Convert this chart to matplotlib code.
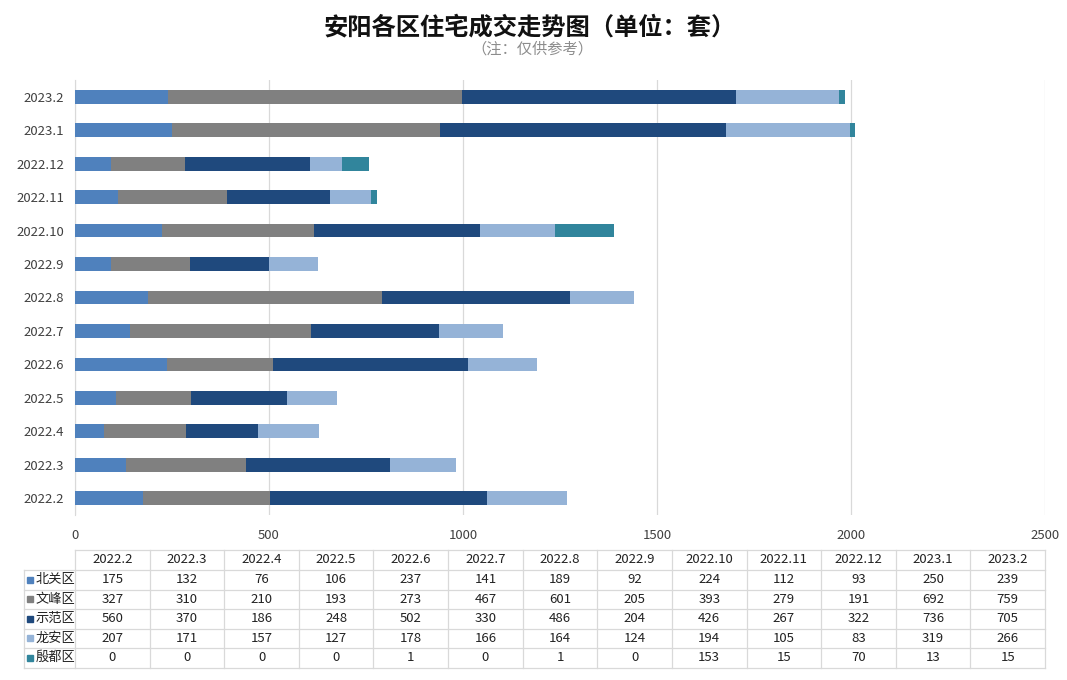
import matplotlib
matplotlib.use('Agg')
import matplotlib.pyplot as plt
from matplotlib.patches import Rectangle

plt.rcParams['font.family'] = ['Noto Sans CJK SC', 'DejaVu Sans']

months = ['2022.2', '2022.3', '2022.4', '2022.5', '2022.6', '2022.7', '2022.8',
          '2022.9', '2022.10', '2022.11', '2022.12', '2023.1', '2023.2']
districts = ['北关区', '文峰区', '示范区', '龙安区', '殷都区']
beiguan = [175, 132, 76, 106, 237, 141, 189, 92, 224, 112, 93, 250, 239]
wenfeng = [327, 310, 210, 193, 273, 467, 601, 205, 393, 279, 191, 692, 759]
shifan = [560, 370, 186, 248, 502, 330, 486, 204, 426, 267, 322, 736, 705]
longan = [207, 171, 157, 127, 178, 166, 164, 124, 194, 105, 83, 319, 266]
yindu = [0, 0, 0, 0, 1, 0, 1, 0, 153, 15, 70, 13, 15]
series = [beiguan, wenfeng, shifan, longan, yindu]
colors = ['#4F81BD', '#808080', '#1F497D', '#95B3D7', '#31859C']
xticks = [0, 500, 1000, 1500, 2000, 2500]

W, H = 1067, 680
fig = plt.figure(figsize=(W / 100, H / 100), dpi=100)
fig.patch.set_facecolor('white')

def fx(px):
    return px / W

def fy(py):
    return 1 - py / H

# main axes
ax = fig.add_axes([fx(75), fy(515), fx(1045) - fx(75), fy(80) - fy(515)])
n = len(months)
ypos = list(range(n))
left = [0] * n
for vals, col, name in zip(series, colors, districts):
    ax.barh(ypos, vals, left=left, height=0.41, color=col, label=name, zorder=3)
    left = [a + b for a, b in zip(left, vals)]

ax.set_xlim(0, 2500)
ax.set_ylim(-0.5, n - 0.5)
ax.set_xticks(xticks)
ax.set_xticklabels([str(t) for t in xticks], fontsize=9.5, color='#404040')
ax.set_yticks(ypos)
ax.set_yticklabels(months, fontsize=9.5, color='#404040')
ax.tick_params(axis='both', length=0, pad=8)
ax.tick_params(axis='x', pad=10)
ax.grid(axis='x', color='#D9D9D9', linewidth=0.9, zorder=0)
for s in ['top', 'right', 'bottom']:
    ax.spines[s].set_visible(False)
ax.spines['left'].set_color('#D9D9D9')

# overlay in pixel coordinates for titles and data table
ov = fig.add_axes([0, 0, 1, 1])
ov.set_xlim(0, W)
ov.set_ylim(H, 0)
ov.axis('off')
ov.patch.set_visible(False)

ov.text(530, 27, '安阳各区住宅成交走势图（单位：套）', ha='center', va='center',
        fontsize=17.5, fontweight='bold', color='#111111')
ov.text(532, 49, '（注：仅供参考）', ha='center', va='center',
        fontsize=11, color='#8C8C8C')

# data table
gc = '#D9D9D9'
x0, x1 = 75, 1045
lab_x = 23.5
colw = (x1 - x0) / n
top = 549.5
hdr_bot = 570
rowh = 19.5
rows_y = [hdr_bot + i * rowh for i in range(len(districts) + 1)]
bottom = rows_y[-1]

ov.plot([x0, x1], [top, top], color=gc, lw=0.9)
for yy in rows_y:
    ov.plot([lab_x, x1], [yy, yy], color=gc, lw=0.9)
ov.plot([lab_x, lab_x], [hdr_bot, bottom], color=gc, lw=0.9)
for i in range(n + 1):
    xx = x0 + i * colw
    ov.plot([xx, xx], [top, bottom], color=gc, lw=0.9)

for i, m in enumerate(months):
    ov.text(x0 + (i + 0.5) * colw, (top + hdr_bot) / 2, m, ha='center', va='center',
            fontsize=9.5, color='#222222')

for r, (name, vals, col) in enumerate(zip(districts, series, colors)):
    yc = rows_y[r] + rowh / 2
    ov.add_patch(Rectangle((27, yc - 3), 6, 6, color=col))
    ov.text(36, yc, name, ha='left', va='center', fontsize=9.5, color='#222222')
    for i, v in enumerate(vals):
        ov.text(x0 + (i + 0.5) * colw, yc, str(v), ha='center', va='center',
                fontsize=9.5, color='#222222')

fig.savefig('out.png', dpi=100)
